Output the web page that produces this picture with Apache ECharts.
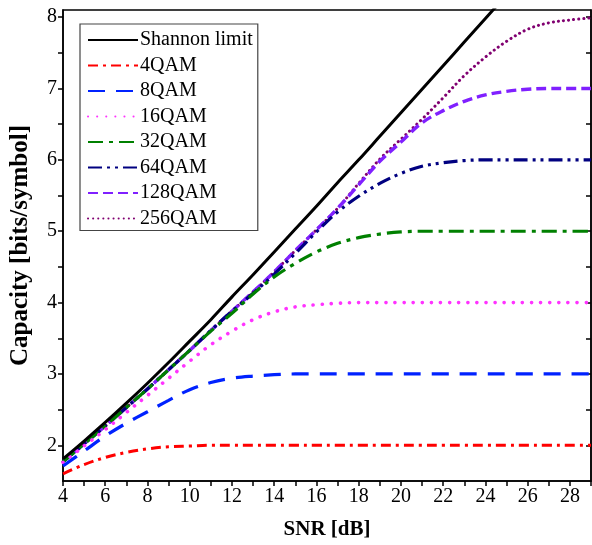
<!DOCTYPE html>
<html>
<head>
<meta charset="utf-8">
<script src="https://cdn.jsdelivr.net/npm/echarts@6/dist/echarts.min.js"></script>
<style>
html,body{margin:0;padding:0;background:#fff;}
#chart{width:592px;height:545px;}
</style>
</head>
<body>
<div id="chart"></div>
<script>
// SNR [dB]
const snr = [4,5,6,7,8,9,10,11,12,13,14,15,16,17,18,19,20,21,22,23,24,25,26,27,28,29];
const shannon = [1.81,2.06,2.32,2.59,2.87,3.16,3.46,3.76,4.08,4.39,4.71,5.03,5.35,5.68,6.00,6.33,6.66,6.99,7.32,7.65,7.98,8.31,null,null,null,null];
const qam4   = [1.60,1.73,1.83,1.90,1.95,1.98,1.99,2.00,2.00,2.00,2.00,2.00,2.00,2.00,2.00,2.00,2.00,2.00,2.00,2.00,2.00,2.00,2.00,2.00,2.00,2.00];
const qam8   = [1.71,1.92,2.13,2.31,2.47,2.63,2.78,2.88,2.94,2.97,2.99,3.00,3.00,3.00,3.00,3.00,3.00,3.00,3.00,3.00,3.00,3.00,3.00,3.00,3.00,3.00];
const qam16  = [1.76,1.99,2.22,2.46,2.70,2.94,3.18,3.41,3.60,3.76,3.87,3.94,3.97,3.99,4.00,4.00,4.00,4.00,4.00,4.00,4.00,4.00,4.00,4.00,4.00,4.00];
const qam32  = [1.77,2.02,2.27,2.53,2.79,3.06,3.33,3.60,3.85,4.12,4.36,4.55,4.71,4.83,4.91,4.96,4.99,5.00,5.00,5.00,5.00,5.00,5.00,5.00,5.00,5.00];
const qam64  = [1.77,2.02,2.27,2.53,2.79,3.06,3.33,3.61,3.88,4.13,4.40,4.69,4.99,5.27,5.49,5.67,5.81,5.91,5.96,5.99,6.00,6.00,6.00,6.00,6.00,6.00];
const qam128 = [1.77,2.02,2.27,2.53,2.79,3.06,3.33,3.61,3.88,4.15,4.43,4.73,5.02,5.32,5.65,5.98,6.25,6.52,6.69,6.82,6.91,6.96,6.99,7.00,7.00,7.00];
const qam256 = [1.77,2.02,2.27,2.53,2.79,3.06,3.33,3.61,3.88,4.15,4.43,4.73,5.02,5.32,5.67,6.01,6.29,6.57,6.87,7.18,7.44,7.66,7.83,7.92,7.96,7.99];

const seriesNames = ['Shannon limit','4QAM','8QAM','16QAM','32QAM','64QAM','128QAM','256QAM'];
const xTickValues = [4,5,6,7,8,9,10,11,12,13,14,15,16,17,18,19,20,21,22,23,24,25,26,27,28,29];
const xLabelValues = [4,6,8,10,12,14,16,18,20,22,24,26,28];
const yTickValues = [2,2.5,3,3.5,4,4.5,5,5.5,6,6.5,7,7.5,8];
const yLabelValues = [2,3,4,5,6,7,8];

const allData = [shannon,qam4,qam8,qam16,qam32,qam64,qam128,qam256];
const styles = [
  {color:'#000000', width:3, type:'solid', cap:'butt'},
  {color:'#ff0000', width:3, type:[10,5,3,5], cap:'butt'},
  {color:'#0022ff', width:3.2, type:[17,11], cap:'butt'},
  {color:'#ff33ff', width:3.6, type:[0.1,9], cap:'round'},
  {color:'#008000', width:3.2, type:[15,6,4,6], cap:'butt'},
  {color:'#000080', width:3.2, type:[14,5,3,5,3,5], cap:'butt'},
  {color:'#8020ff', width:3.4, type:[10,5], cap:'butt'},
  {color:'#800070', width:3, type:[0.1,5], cap:'round'}
];

const font = '"Liberation Serif", "Times New Roman", serif';

const series = seriesNames.map((name,i)=>({
  name: name,
  type: 'line',
  data: snr.map((s,k)=>[s, allData[i][k]]).filter(p=>p[1]!==null),
  smooth: 0.35,
  symbol: 'none',
  clip: true,
  z: 10 - i,
  lineStyle: {color: styles[i].color, width: styles[i].width, type: styles[i].type, cap: styles[i].cap},
  itemStyle: {color: styles[i].color}
}));

const chart = echarts.init(document.getElementById('chart'), null, {renderer:'canvas'});
chart.setOption({
  animation: false,
  backgroundColor: '#fff',
  grid: {left: 61, right: 1, top: 10, bottom: 60, show: true, borderColor: '#000', borderWidth: 1.5, containLabel: false},
  legend: {
    data: seriesNames,
    orient: 'vertical',
    left: 80, top: 24,
    backgroundColor: '#fff',
    borderColor: '#444', borderWidth: 1.2,
    padding: [6, 5, 2, 7],
    itemWidth: 50, itemHeight: 12, itemGap: 5.5,
    itemStyle: {opacity: 0},
    textStyle: {fontFamily: font, fontSize: 20, color: '#000', lineHeight: 20, padding: [0,0,0,-3]}
  },
  xAxis: {
    type: 'value', min: 4, max: 29,
    name: 'SNR [dB]', nameLocation: 'middle', nameGap: 38,
    nameTextStyle: {fontFamily: font, fontSize: 21, fontWeight: 'bold', color: '#000'},
    axisLine: {show: true, onZero: false, lineStyle: {color: '#000', width: 1.5}},
    axisTick: {show: true, inside: false, length: 5, customValues: xTickValues, lineStyle: {color: '#000', width: 1.5}},
    axisLabel: {customValues: xLabelValues, fontFamily: font, fontSize: 20, color: '#000', margin: 6},
    splitLine: {show: false}
  },
  yAxis: [{
    type: 'value', min: 1.5, max: 8.1,
    name: 'Capacity [bits/symbol]', nameLocation: 'middle', nameGap: 30, nameRotate: 90,
    nameTextStyle: {fontFamily: font, fontSize: 25, fontWeight: 'bold', color: '#000'},
    axisLine: {show: true, onZero: false, lineStyle: {color: '#000', width: 1.5}},
    axisTick: {show: true, inside: false, length: 5, customValues: yTickValues, lineStyle: {color: '#000', width: 1.5}},
    axisLabel: {customValues: yLabelValues, fontFamily: font, fontSize: 20, color: '#000', margin: 6},
    splitLine: {show: false}
  },{
    type: 'value', min: 1.5, max: 8.1, position: 'right',
    axisLine: {show: true, onZero: false, lineStyle: {color: '#000', width: 1.5}},
    axisTick: {show: true, inside: true, length: 5, customValues: yTickValues, lineStyle: {color: '#000', width: 1.5}},
    axisLabel: {show: false},
    splitLine: {show: false}
  }],
  series: series
});
</script>
</body>
</html>
